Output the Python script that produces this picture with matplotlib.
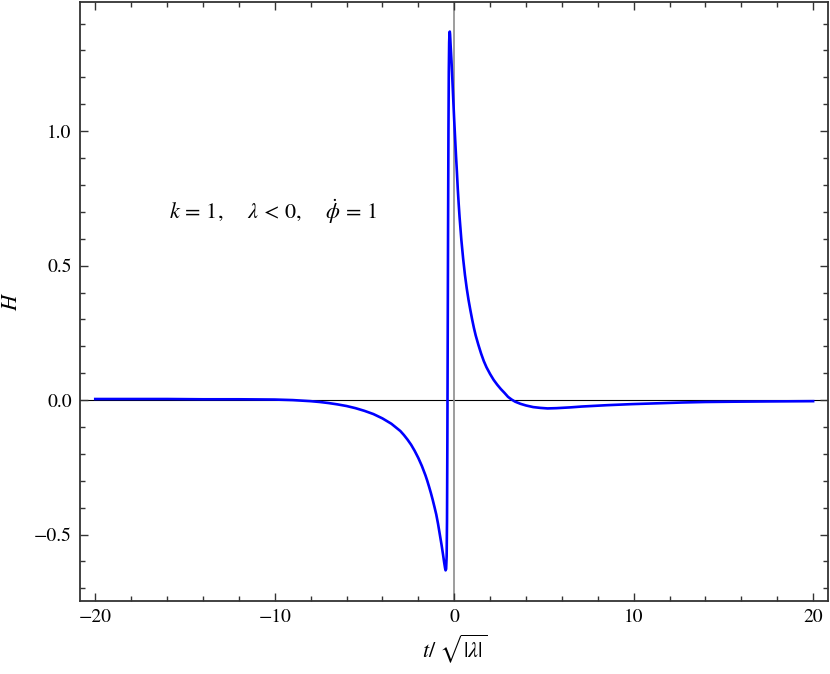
import matplotlib
matplotlib.use("Agg")
import matplotlib.pyplot as plt
from matplotlib.ticker import MultipleLocator, FuncFormatter

# H(t)
t_vals = [-20, -18, -16, -14, -12, -10, -9, -8.5, -8, -7.5, -7, -6.5, -6, -5.5,
          -5, -4.5, -4, -3.5, -3, -2.8, -2.6, -2.4, -2.2, -2.0, -1.8, -1.6, -1.5,
          -1.4, -1.3, -1.2, -1.1, -1.0, -0.9, -0.8, -0.7, -0.62, -0.56, -0.51,
          -0.48, -0.45, -0.42, -0.40, -0.38, -0.36, -0.34, -0.32, -0.30, -0.28,
          -0.26, -0.245, -0.23, -0.2, -0.15, -0.1, -0.05, 0.0, 0.05, 0.1, 0.15,
          0.2, 0.25, 0.3, 0.4, 0.5, 0.6, 0.7, 0.8, 0.9, 1.0, 1.1, 1.2, 1.35,
          1.5, 1.65, 1.8, 2.0, 2.2, 2.4, 2.6, 2.8, 3.0, 3.2, 3.4, 3.7, 4.0, 4.4,
          4.8, 5.2, 5.7, 6.5, 7.1, 8.5, 9.9, 11.3, 12.7, 14, 15.5, 17.5, 20]
H_vals = [0.004, 0.004, 0.004, 0.003, 0.003, 0.002, 0.0, -0.002, -0.004, -0.007,
          -0.011, -0.016, -0.022, -0.030, -0.040, -0.052, -0.068, -0.088, -0.115,
          -0.130, -0.147, -0.166, -0.189, -0.215, -0.245, -0.280, -0.300, -0.322,
          -0.345, -0.370, -0.397, -0.425, -0.460, -0.500, -0.540, -0.575, -0.603,
          -0.624, -0.633, -0.628, -0.580, -0.450, -0.150, 0.250, 0.650, 1.000,
          1.220, 1.330, 1.368, 1.370, 1.360, 1.320, 1.260, 1.190, 1.115, 1.042,
          0.975, 0.910, 0.850, 0.785, 0.730, 0.680, 0.595, 0.525, 0.465, 0.415,
          0.372, 0.335, 0.300, 0.268, 0.240, 0.205, 0.173, 0.145, 0.122, 0.097,
          0.075, 0.057, 0.041, 0.027, 0.012, 0.002, -0.006, -0.014, -0.020,
          -0.026, -0.029, -0.031, -0.030, -0.027, -0.024, -0.019, -0.015, -0.012,
          -0.009, -0.007, -0.006, -0.005, -0.004]

plt.rcParams['font.family'] = 'STIXGeneral'
plt.rcParams['mathtext.fontset'] = 'stix'

fig = plt.figure(figsize=(8.3, 6.74), dpi=100)
ax = fig.add_axes([0.0964, 0.1083, 0.9012, 0.8887])

ax.axhline(0, color='black', lw=0.8, zorder=1)
ax.axvline(0, color='#8c8c8c', lw=1.2, zorder=1)
ax.plot(t_vals, H_vals, color='#0000ff', lw=1.9, zorder=3)

ax.set_xlim(-20.85, 20.83)
ax.set_ylim(-0.747, 1.48)

ax.xaxis.set_major_locator(MultipleLocator(10))
ax.xaxis.set_minor_locator(MultipleLocator(2))
ax.yaxis.set_major_locator(MultipleLocator(0.5))
ax.yaxis.set_minor_locator(MultipleLocator(0.1))
ax.xaxis.set_major_formatter(FuncFormatter(lambda v, p: f'{v:.0f}'.replace('-', '\u2212')))
ax.yaxis.set_major_formatter(FuncFormatter(lambda v, p: f'{v:.1f}'.replace('-', '\u2212')))

ax.tick_params(which='both', direction='in', top=True, right=True,
               width=1.0, colors='#333333', labelcolor='black')
ax.tick_params(which='major', length=6, labelsize=14, pad=6)
ax.tick_params(which='minor', length=3.5)
for s in ax.spines.values():
    s.set_linewidth(1.3)
    s.set_color('#333333')

ax.text(-15.9, 0.70, r'$k\,=\,1,\quad\ \lambda\,<\,0,\quad\ \dot{\phi}\,=\,1$',
        fontsize=16, va='center', ha='left')

ax.set_xlabel(r'$t/\ \sqrt{\left|\lambda\right|}$', fontsize=16, labelpad=4)
ax.set_ylabel(r'$H$', fontsize=16)
ax.yaxis.set_label_coords(-0.077, 0.5)

fig.savefig('out.png', dpi=100)
